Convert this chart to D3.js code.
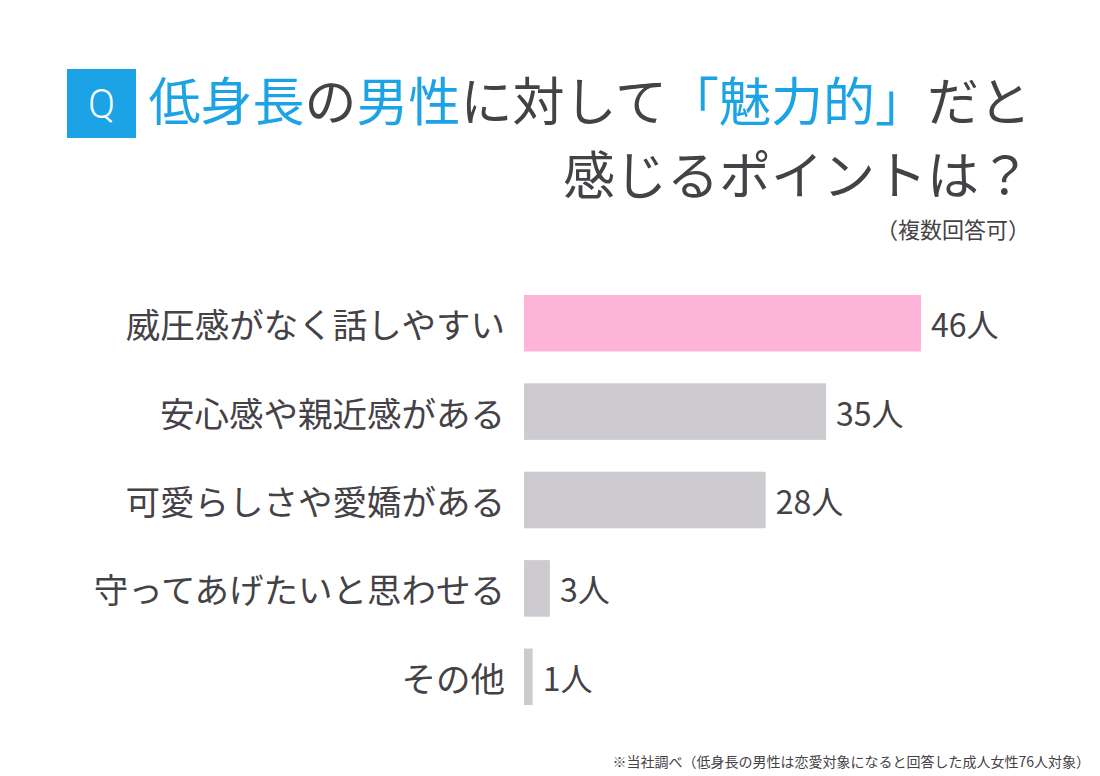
<!DOCTYPE html>
<html>
<head>
<meta charset="utf-8">
<script src="https://cdn.jsdelivr.net/npm/d3@7"></script>
<style>
  body { margin: 0; background: #fff; }
  svg { font-family: "Noto Sans CJK JP", "Noto Sans", sans-serif; }
</style>
</head>
<body>
<svg id="chart"></svg>
<script>
// Data
const categories = ["威圧感がなく話しやすい", "安心感や親近感がある", "可愛らしさや愛嬌がある", "守ってあげたいと思わせる", "その他"];
const counts = [46, 35, 28, 3, 1];
const unit = "人";

const W = 1100, H = 776;
const blue = "#1ba3e6", dark = "#444246", pink = "#feb3d9", grey = "#cdcbcf";

const svg = d3.select("#chart").attr("width", W).attr("height", H);

// Title: Q box
svg.append("rect").attr("x", 67).attr("y", 69).attr("width", 69).attr("height", 69).attr("fill", blue);
svg.append("text").attr("x", 101.5).attr("y", 104).attr("text-anchor", "middle")
    .attr("dominant-baseline", "central").attr("fill", "#fff")
    .style("font-family", "Roboto, 'Noto Sans', sans-serif").style("font-size", "40px").style("font-weight", 300).text("Q");

// Title line 1 with coloured parts
const line1 = [["低身長", blue], ["の", dark], ["男性", blue], ["に対して", dark], ["「魅力的」", blue], ["だと", dark]];
const t1 = svg.append("text").attr("x", 1031).attr("y", 121).attr("text-anchor", "end").style("font-size", "52px");
line1.forEach(([s, c]) => t1.append("tspan").attr("fill", c).text(s));

svg.append("text").attr("x", 1031).attr("y", 195).attr("text-anchor", "end")
    .style("font-size", "52px").attr("fill", dark).text("感じるポイントは？");
svg.append("text").attr("x", 1030).attr("y", 238).attr("text-anchor", "end")
    .style("font-size", "22px").attr("fill", dark).text("（複数回答可）");

// Scales
const x = d3.scaleLinear().domain([0, 46]).range([524, 921]);
const y = d3.scaleBand().domain(categories).range([279, 721]).paddingInner(0.36).paddingOuter(0.18);

svg.selectAll(".bar").data(categories).enter().append("rect")
    .attr("class", "bar")
    .attr("x", x(0))
    .attr("y", d => y(d))
    .attr("width", (d, i) => x(counts[i]) - x(0))
    .attr("height", y.bandwidth())
    .attr("fill", (d, i) => i === 0 ? pink : grey);

svg.selectAll(".cat").data(categories).enter().append("text")
    .attr("class", "cat")
    .attr("x", 505)
    .attr("y", d => y(d) + y.bandwidth() / 2)
    .attr("text-anchor", "end")
    .attr("dominant-baseline", "central")
    .attr("fill", dark)
    .style("font-size", "34.5px")
    .text(d => d);

svg.selectAll(".val").data(categories).enter().append("text")
    .attr("class", "val")
    .attr("x", (d, i) => x(counts[i]) + 10)
    .attr("y", d => y(d) + y.bandwidth() / 2)
    .attr("dominant-baseline", "central")
    .attr("fill", dark)
    .style("font-size", "32px")
    .text((d, i) => counts[i] + unit);

// Footnote
svg.append("text").attr("x", 1090).attr("y", 767).attr("text-anchor", "end")
    .attr("fill", dark).style("font-size", "14px")
    .text("※当社調べ（低身長の男性は恋愛対象になると回答した成人女性76人対象）");
</script>
</body>
</html>
